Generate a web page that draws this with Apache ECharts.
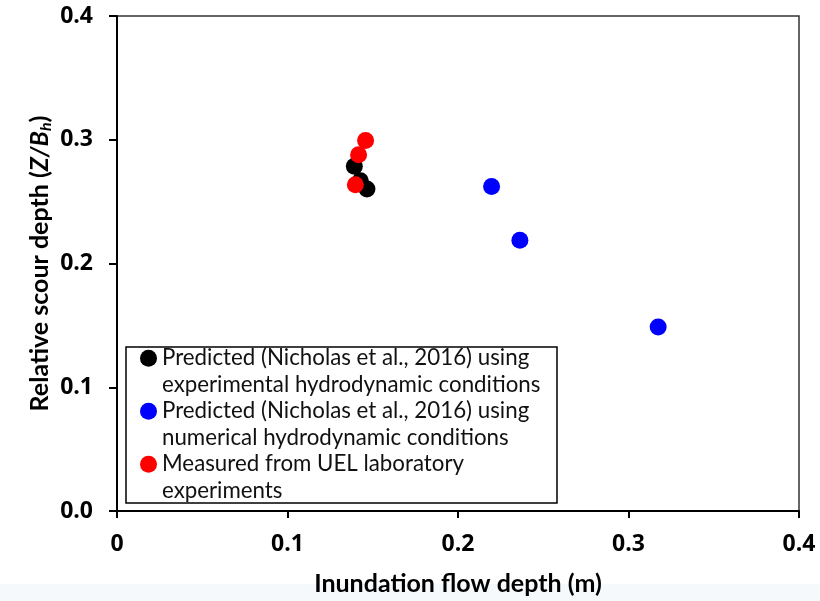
<!DOCTYPE html>
<html>
<head>
<meta charset="utf-8">
<script src="https://cdn.jsdelivr.net/npm/echarts@6/dist/echarts.min.js"></script>
<style>
html,body{margin:0;padding:0;background:#fff;}
#chart{width:820px;height:601px;}
</style>
</head>
<body>
<div id="chart"></div>
<script>
// Data
const seriesNames = [
  'Predicted (Nicholas et al., 2016) using\nexperimental hydrodynamic conditions',
  'Predicted (Nicholas et al., 2016) using\nnumerical hydrodynamic conditions',
  'Measured from UEL laboratory\nexperiments'
];
const blackX = [0.1392, 0.1427, 0.1466];
const blackY = [0.2785, 0.2669, 0.2602];
const blueX = [0.2197, 0.2363, 0.3174];
const blueY = [0.2623, 0.2188, 0.1486];
const redX = [0.1458, 0.1417, 0.1398];
const redY = [0.2994, 0.2879, 0.2637];
const xTicks = [0, 0.1, 0.2, 0.3, 0.4];
const yTicks = [0, 0.1, 0.2, 0.3, 0.4];
const seriesColors = ['#000000', '#0000ff', '#ff0000'];

function pairs(xs, ys) { return xs.map((x, i) => [x, ys[i]]); }

const chart = echarts.init(document.getElementById('chart'), null, {renderer: 'canvas'});
const FONT = 'Lato';
const NUMFONT = '"Open Sans"';
chart.setOption({
  animation: false,
  backgroundColor: '#ffffff',
  graphic: [
    {type: 'rect', left: 0, top: 584, z: -10, silent: true,
     shape: {width: 820, height: 17}, style: {fill: '#f6f9fc'}},
    {type: 'rect', z: 5, silent: true,
     shape: {x: 126, y: 347, width: 431, height: 156},
     style: {fill: '#ffffff', stroke: '#000', lineWidth: 1.5}}
  ],
  grid: {left: 117, top: 16, right: 21, bottom: 89, show: true, borderColor: '#333', borderWidth: 1.5, backgroundColor: 'transparent'},
  xAxis: {
    type: 'value', min: 0, max: 0.4, interval: 0.1,
    name: 'Inundation flow depth (m)', nameLocation: 'middle', nameGap: 60, nameMoveOverlap: false,
    nameTextStyle: {fontFamily: FONT, fontWeight: 'bold', fontSize: 25, color: '#000'},
    axisLine: {show: true, onZero: false, lineStyle: {color: '#000', width: 2}},
    axisTick: {show: true, inside: false, length: 7, lineStyle: {color: '#000', width: 2}},
    axisLabel: {margin: 22, fontFamily: NUMFONT, fontWeight: 'bold', fontSize: 23, color: '#000',
      formatter: v => { const t = xTicks.find(k => Math.abs(k - v) < 1e-9); return t === 0 ? '0' : String(t); }},
    splitLine: {show: false}
  },
  yAxis: {
    type: 'value', min: 0, max: 0.4, interval: 0.1,
    name: '{n|Relative scour depth (}{i|Z/B}{s|h}{n|)}', nameLocation: 'middle', nameGap: 63, nameMoveOverlap: false,
    nameTextStyle: {
      fontFamily: FONT, fontWeight: 'bold', fontSize: 25, color: '#000',
      rich: {
        n: {fontFamily: FONT, fontWeight: 'bold', fontSize: 25, color: '#000'},
        i: {fontFamily: FONT, fontWeight: 'bold', fontStyle: 'italic', fontSize: 25, color: '#000'},
        s: {fontFamily: FONT, fontWeight: 'bold', fontStyle: 'italic', fontSize: 16, color: '#000', verticalAlign: 'bottom', padding: [12, 0, 0, 0]}
      }
    },
    axisLine: {show: true, onZero: false, lineStyle: {color: '#000', width: 2}},
    axisTick: {show: true, inside: false, length: 8, lineStyle: {color: '#000', width: 2}},
    axisLabel: {margin: 24, fontFamily: NUMFONT, fontWeight: 'bold', fontSize: 23, color: '#000',
      formatter: v => { const t = yTicks.find(k => Math.abs(k - v) < 1e-9); return t.toFixed(1); }},
    splitLine: {show: false}
  },
  legend: {
    orient: 'vertical', left: 140, top: 318.5,
    itemWidth: 17, itemHeight: 17, itemGap: -26.5,
    padding: 0,
    z: 10,
    icon: 'circle',
    formatter: name => '\n' + name,
    textStyle: {fontFamily: FONT, fontSize: 22.3, color: '#111', lineHeight: 26.5},
    data: seriesNames
  },
  series: [
    {name: seriesNames[0], type: 'scatter', symbol: 'circle', symbolSize: 17, itemStyle: {color: seriesColors[0], opacity: 1}, data: pairs(blackX, blackY), z: 2},
    {name: seriesNames[1], type: 'scatter', symbol: 'circle', symbolSize: 17, itemStyle: {color: seriesColors[1], opacity: 1}, data: pairs(blueX, blueY), z: 3},
    {name: seriesNames[2], type: 'scatter', symbol: 'circle', symbolSize: 17, itemStyle: {color: seriesColors[2], opacity: 1}, data: pairs(redX, redY), z: 4}
  ]
});
</script>
</body>
</html>
